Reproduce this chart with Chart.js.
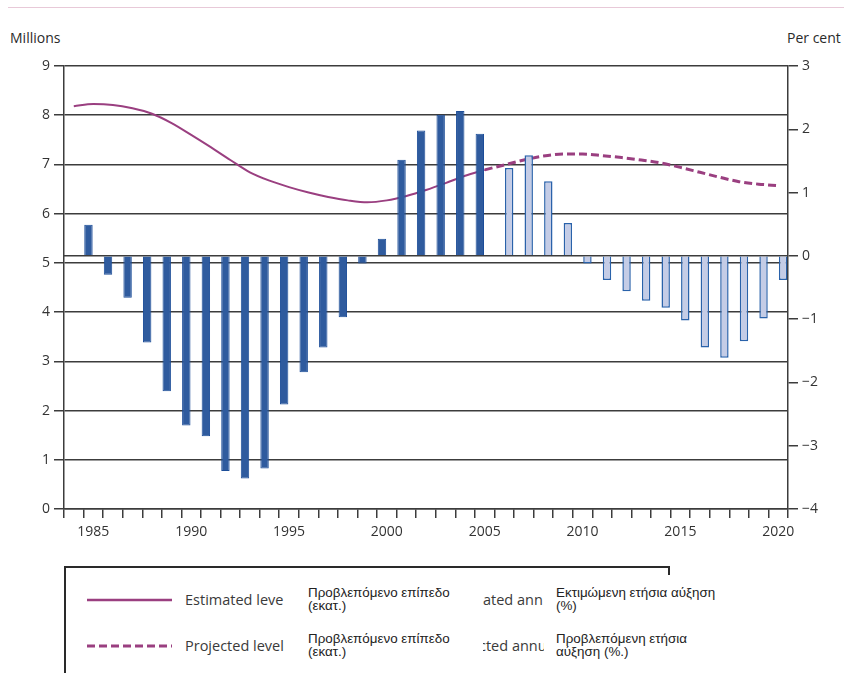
<!DOCTYPE html>
<html>
<head>
<meta charset="utf-8">
<script src="https://cdn.jsdelivr.net/npm/chart.js@4.4.1/dist/chart.umd.min.js"></script>
<style>
  body { margin: 0; background: #fff; }
  #wrap { position: relative; width: 844px; height: 673px; overflow: hidden; font-family: "Open Sans", sans-serif; color: #333; }
  #rule { position: absolute; left: 8px; right: 0; top: 7px; height: 1px; background: #e8c9d8; }
  .axt { position: absolute; top: 28px; font-size: 14px; color: #2a2a2a; white-space: nowrap; }
  #box { position: absolute; left: 0; top: 0; width: 844px; height: 560px; }
  .lg { position: absolute; }
  .en { position: absolute; font-size: 14.5px; line-height: 20px; color: #3a3a3a; white-space: nowrap; overflow: hidden; }
  .gr { position: absolute; font-family: "Liberation Sans", Arial, sans-serif; font-size: 13.4px; line-height: 13px; color: #222; white-space: nowrap; }
</style>
</head>
<body>
<div id="wrap">
  <div id="rule"></div>
  <div class="axt" style="left:10px">Millions</div>
  <div class="axt" style="left:787px">Per cent</div>
  <div id="box"><canvas id="c"></canvas></div>

  <!-- legend frame: top edge, full left edge, short right stub -->
  <div class="lg" style="left:64px;top:566px;width:606px;height:2px;background:#2a2a2a"></div>
  <div class="lg" style="left:64px;top:566px;width:2px;height:120px;background:#2a2a2a"></div>
  <div class="lg" style="left:668px;top:566px;width:2px;height:9px;background:#2a2a2a"></div>

  <svg class="lg" style="left:87px;top:595px" width="86" height="10"><line x1="0" y1="5" x2="85" y2="5" stroke="#9a3f80" stroke-width="2.5"/></svg>
  <svg class="lg" style="left:87px;top:641px" width="86" height="10"><line x1="0" y1="5" x2="85" y2="5" stroke="#9a3f80" stroke-width="3" stroke-dasharray="8,4"/></svg>

  <div class="en" style="left:185px;top:590px;width:99px">Estimated level</div>
  <div class="en" style="left:185px;top:636px;width:110px">Projected level</div>
  <div class="en" style="left:483px;top:590px;width:60px">ated annual</div>
  <div class="en" style="left:483px;top:636px;width:61px"><span style="margin-left:-4px">cted annual</span></div>

  <div class="gr" style="left:308px;top:586px">Προβλεπόμενο επίπεδο<br>(εκατ.)</div>
  <div class="gr" style="left:308px;top:632px">Προβλεπόμενο επίπεδο<br>(εκατ.)</div>
  <div class="gr" style="left:556px;top:586px">Εκτιμώμενη ετήσια αύξηση<br>(%)</div>
  <div class="gr" style="left:556px;top:632px">Προβλεπόμενη ετήσια<br>αύξηση (%.)</div>
</div>

<script>
// Population level (millions, left axis) and annual growth (%, right axis), 1984-2020.
const YEARS = [1984, 1985, 1986, 1987, 1988, 1989, 1990, 1991, 1992, 1993, 1994, 1995, 1996,
  1997, 1998, 1999, 2000, 2001, 2002, 2003, 2004, 2005, 2006, 2007, 2008, 2009, 2010, 2011,
  2012, 2013, 2014, 2015, 2016, 2017, 2018, 2019, 2020];

const _ = null;
const ESTIMATED_LEVEL = [8.18, 8.23, 8.21, 8.14, 8.03, 7.84, 7.60, 7.35, 7.09, 6.84, 6.67, 6.54,
  6.43, 6.34, 6.27, 6.23, 6.27, 6.36, 6.48, 6.62, 6.77, 6.89, _, _, _, _, _, _, _, _, _, _, _, _, _, _, _];
const PROJECTED_LEVEL = [_, _, _, _, _, _, _, _, _, _, _, _, _, _, _, _, _, _, _, _, _,
  6.89, 6.99, 7.09, 7.17, 7.21, 7.21, 7.18, 7.14, 7.09, 7.03, 6.94, 6.84, 6.74, 6.65, 6.60, 6.57];
const ESTIMATED_GROWTH = [_, 0.49, -0.30, -0.66, -1.37, -2.14, -2.68, -2.85, -3.40, -3.52, -3.36,
  -2.35, -1.84, -1.45, -0.97, -0.12, 0.27, 1.52, 1.98, 2.23, 2.29, 1.93, _, _, _, _, _, _, _, _, _, _, _, _, _, _, _];
const PROJECTED_GROWTH = [_, _, _, _, _, _, _, _, _, _, _, _, _, _, _, _, _, _, _, _, _, _,
  1.39, 1.59, 1.18, 0.52, -0.12, -0.38, -0.56, -0.71, -0.82, -1.02, -1.45, -1.61, -1.35, -0.99, -0.38];

const LEVEL_TICKS = [0, 9];     // left axis min / max
const GROWTH_TICKS = [-4, 3];   // right axis min / max

const PLUM = "#9a3f80";
const INK = "#3c3c3c";
const tickFont = { family: "'Open Sans', sans-serif", size: 14 };

new Chart(document.getElementById("c"), {
  data: {
    labels: YEARS,
    datasets: [
      { type: "bar", data: ESTIMATED_GROWTH, yAxisID: "y1", order: 0,
        backgroundColor: "#2f5b9e", borderColor: "#1c4d98", borderWidth: 1 },
      { type: "bar", data: PROJECTED_GROWTH, yAxisID: "y1", order: 0,
        backgroundColor: "#c4cce6", borderColor: "#2a62aa", borderWidth: 1.5 },
      { type: "line", data: ESTIMATED_LEVEL, yAxisID: "y", order: 1, borderColor: PLUM, borderWidth: 2,
        pointRadius: 0, cubicInterpolationMode: "monotone", spanGaps: false },
      { type: "line", data: PROJECTED_LEVEL, yAxisID: "y", order: 1, borderColor: PLUM, borderWidth: 3,
        borderDash: [8, 4], pointRadius: 0, cubicInterpolationMode: "monotone", spanGaps: false },
    ],
  },
  options: {
    responsive: true,
    maintainAspectRatio: false,
    animation: false,
    layout: { padding: { top: 66, left: 0, right: 0, bottom: 0 } },
    datasets: { bar: { categoryPercentage: 1, barPercentage: 0.86, grouped: true } },
    plugins: { legend: { display: false }, tooltip: { enabled: false } },
    scales: {
      x: {
        type: "category",
        offset: true,
        grid: { offset: true, drawOnChartArea: false, tickLength: 9, color: INK, lineWidth: 1.5 },
        border: { color: INK, width: 1.5 },
        ticks: { autoSkip: false, maxRotation: 0, padding: 6, color: "#333", font: tickFont,
          callback: (v, i) => (YEARS[i] % 5 === 0 ? String(YEARS[i]) : "") },
        afterFit: (s) => { s.height = 51; },
      },
      y: {
        position: "left",
        min: LEVEL_TICKS[0], max: LEVEL_TICKS[1],
        grid: { color: INK, lineWidth: 1.5, tickLength: 10 },
        border: { color: INK, width: 1.5 },
        ticks: { stepSize: 1, padding: 4, color: "#333", font: tickFont },
        afterFit: (s) => { s.width = 64; },
      },
      y1: {
        position: "right",
        min: GROWTH_TICKS[0], max: GROWTH_TICKS[1],
        // only the zero line crosses the plot; other ticks are just marks on the axis
        grid: { color: (c) => (c.tick && c.tick.value === 0 ? INK : "rgba(0,0,0,0)"), tickColor: INK,
          lineWidth: 1.5, tickLength: 10 },
        border: { color: INK, width: 1.5 },
        ticks: { stepSize: 1, padding: 4, color: "#333", font: tickFont,
          callback: (v) => (v < 0 ? `\u2212${Math.abs(v)}` : String(v)) },
        afterFit: (s) => { s.width = 56; },
      },
    },
  },
});
</script>
</body>
</html>
